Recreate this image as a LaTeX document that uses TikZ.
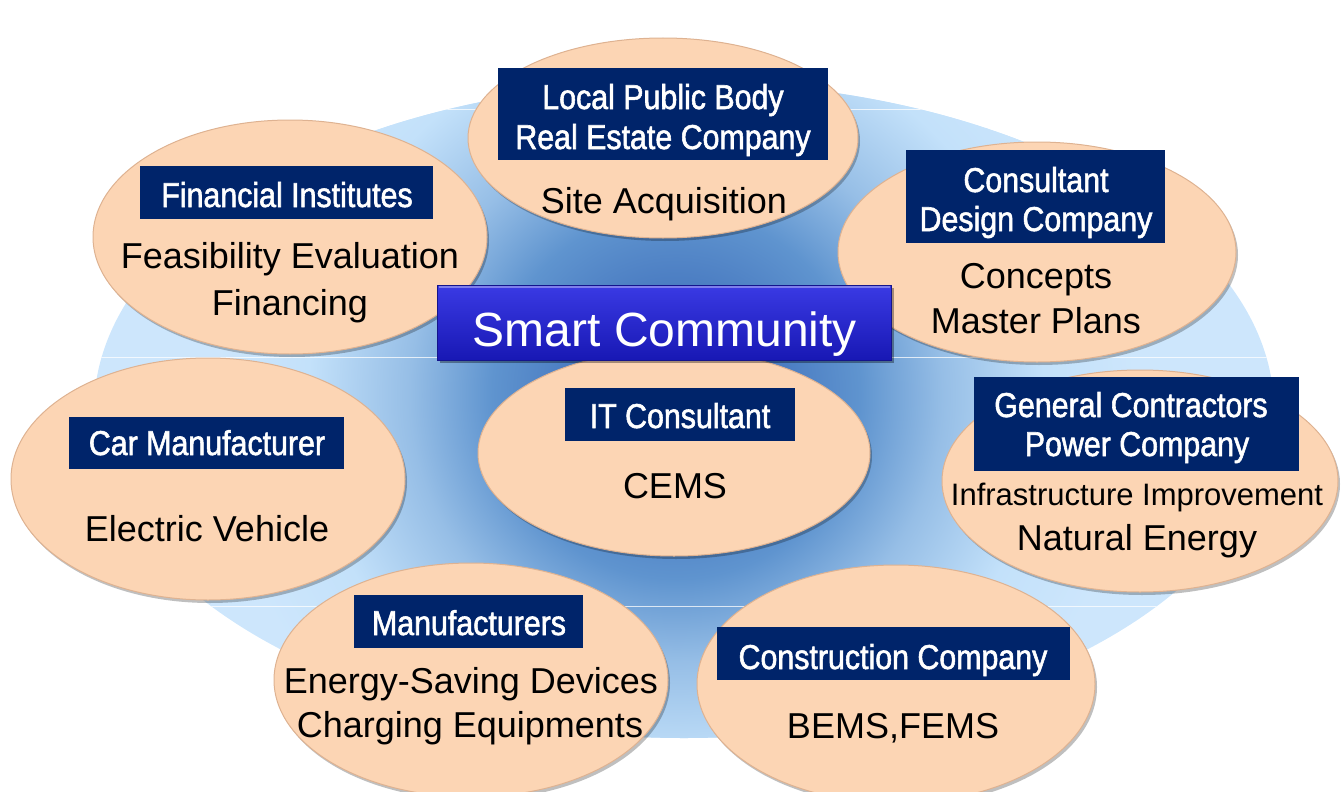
\documentclass[tikz,border=0pt]{standalone}
\usepackage{fontspec}
\setmainfont{Liberation Sans}
\newfontfamily\lblfont{Liberation Sans}[FakeStretch=0.88,FakeBold=1.6]
\usetikzlibrary{shapes.geometric,shadows}

\definecolor{peach}{RGB}{252,213,180}
\definecolor{peachedge}{RGB}{222,178,145}
\definecolor{navy}{RGB}{0,36,106}
\definecolor{bgA}{RGB}{45,90,175}
\definecolor{bgB}{RGB}{95,148,207}
\definecolor{bgC}{RGB}{150,190,230}
\definecolor{bgD}{RGB}{195,225,250}
\definecolor{bgE}{RGB}{205,230,252}
\definecolor{smtop}{RGB}{58,58,228}
\definecolor{smbot}{RGB}{24,24,180}
\definecolor{smedge}{RGB}{20,20,140}

\pgfdeclareradialshading{bgshade}{\pgfpoint{0bp}{0bp}}{color(0bp)=(bgA); color(10bp)=(bgB); color(14.5bp)=(bgC); color(20bp)=(bgD); color(25bp)=(bgE); color(50bp)=(bgE)}

\tikzset{
  pe/.style={ellipse, fill=peach, draw=peachedge, line width=1pt,
    drop shadow={shadow xshift=2pt, shadow yshift=-3pt, opacity=0.25, fill=black}},
  nbox/.style={rectangle, fill=navy, inner sep=0pt},
  lbl/.style={anchor=base, inner sep=0pt, text=white, font=\lblfont\fontsize{34.5}{40}\selectfont},
  body/.style={anchor=base, inner sep=0pt, text=black, font=\fontsize{36}{43}\selectfont},
  smallbody/.style={anchor=base, inner sep=0pt, text=black, font=\fontsize{31}{37}\selectfont},
  refl/.style={draw=white, opacity=0.75, line width=0.8pt}
}

\begin{document}
\begin{tikzpicture}[x=1pt,y=-1pt]
\useasboundingbox (0,0) rectangle (1341,792);
\clip (0,0) rectangle (1341,792);

% background ellipse with circular gradient
\fill[bgE] (684,410) ellipse [x radius=590, y radius=328];
\begin{scope}
  \clip (684,410) ellipse [x radius=590, y radius=328];
  \shade[shading=bgshade] (676,395) circle [radius=460];
  \draw[refl] (90,109) -- (1280,109);
  \draw[refl] (90,357) -- (1280,357);
  \draw[refl] (90,606) -- (1280,606);
\end{scope}

% peach ellipses
\node[pe, minimum width=390, minimum height=200] (eLocal) at (663,138) {};
\node[pe, minimum width=394, minimum height=234] (eFin) at (290,237) {};
\node[pe, minimum width=398, minimum height=220] (eCons) at (1037,252) {};
\node[pe, minimum width=394, minimum height=242] (eCar) at (208,479) {};
\node[pe, minimum width=392, minimum height=206] (eIT) at (674,453) {};
\node[pe, minimum width=396, minimum height=222] (eGen) at (1140,481) {};
\node[pe, minimum width=394, minimum height=234] (eMan) at (471,680) {};
\node[pe, minimum width=398, minimum height=238] (eCon) at (896,684) {};

% navy label boxes
\node[nbox, minimum width=330, minimum height=92] (bLocal) at (663,114) {};
\node[nbox, minimum width=293, minimum height=53] (bFin) at (286.5,192.5) {};
\node[nbox, minimum width=259, minimum height=93] (bCons) at (1035.5,196.5) {};
\node[nbox, minimum width=230, minimum height=53] (bIT) at (680,414.5) {};
\node[nbox, minimum width=275, minimum height=52] (bCar) at (206.5,443) {};
\node[nbox, minimum width=325, minimum height=94] (bGen) at (1136.5,424) {};
\node[nbox, minimum width=229, minimum height=53] (bMan) at (468.5,621.5) {};
\node[nbox, minimum width=353, minimum height=53] (bCon) at (893.5,653.5) {};

% label texts
\node[lbl] (tLocalA) at (663,109) {Local Public Body};
\node[lbl] (tLocalB) at (663,149) {Real Estate Company};
\node[lbl] (tFin) at (287,207) {Financial Institutes};
\node[lbl] (tConsA) at (1036,192) {Consultant};
\node[lbl] (tConsB) at (1036,231) {Design Company};
\node[lbl] (tIT) at (680,428) {IT Consultant};
\node[lbl] (tCar) at (207,455) {Car Manufacturer};
\node[lbl] (tGenA) at (1131,417) {General Contractors};
\node[lbl] (tGenB) at (1137,456) {Power Company};
\node[lbl] (tMan) at (469,635) {Manufacturers};
\node[lbl] (tCon) at (893,669) {Construction Company};

% body texts
\node[body] (sLocal) at (664,213) {Site Acquisition};
\node[body] (sFinA) at (290,268) {Feasibility Evaluation};
\node[body] (sFinB) at (290,315) {Financing};
\node[body] (sConsA) at (1036,288) {Concepts};
\node[body] (sConsB) at (1036,333) {Master Plans};
\node[body] (sIT) at (675,498) {CEMS};
\node[body] (sCar) at (207,541) {Electric Vehicle};
\node[smallbody] (sGenA) at (1137,505) {Infrastructure Improvement};
\node[body] (sGenB) at (1137,550) {Natural Energy};
\node[body] (sManA) at (471,693) {Energy-Saving Devices};
\node[body] (sManB) at (470,737) {Charging Equipments};
\node[body] (sCon) at (893,738) {BEMS,FEMS};

% central title box
\node[rectangle, minimum width=454, minimum height=75, top color=smtop, bottom color=smbot,
  draw=smedge, line width=1pt,
  drop shadow={shadow xshift=3pt, shadow yshift=-3pt, opacity=0.35, fill=black}] (title) at (664,322.5) {};
\draw[white, opacity=0.35, line width=2pt] ([xshift=2pt,yshift=-2pt]title.north west) -- ([xshift=-2pt,yshift=-2pt]title.north east);
\node[anchor=base, inner sep=0pt, text=white, font=\fontsize{48}{56}\selectfont] (tTitle) at (665,346) {Smart Community};
\end{tikzpicture}
\end{document}
